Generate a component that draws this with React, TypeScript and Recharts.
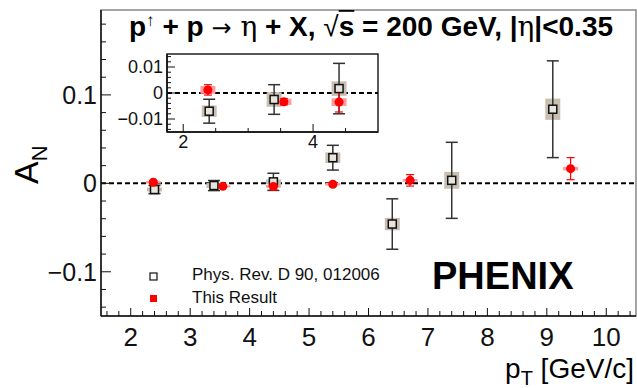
import { ScatterChart, Scatter, XAxis, YAxis, ErrorBar, ReferenceLine, ReferenceArea } from 'recharts';

// Phys. Rev. D 90, 012006 (open squares)
const oldPt = [2.4, 3.4, 4.4, 5.4, 6.4, 7.4, 9.1];
const oldAN = [-0.007, -0.0025, 0.0017, 0.029, -0.046, 0.0034, 0.0838];
const oldStat = [0.0046, 0.0057, 0.0097, 0.014, 0.0285, 0.043, 0.0547];
const oldSys = [0.0022, 0.0028, 0.0028, 0.006, 0.007, 0.0095, 0.012];

// This Result (red)
const newPt = [2.38, 3.55, 4.4, 5.4, 6.7, 9.4];
const newAN = [0.0012, -0.0034, -0.0035, -0.001, 0.0034, 0.0166];
const newStat = [0.002, 0.0012, 0.0038, 0.002, 0.0065, 0.0125];
const newSys = [0.0015, 0.0012, 0.0015, 0.0015, 0.0015, 0.002];

const xMajor = [2, 3, 4, 5, 6, 7, 8, 9, 10];
const yMajor = [-0.1, 0, 0.1];
const insetXMajor = [2, 4];
const insetYMajor = [-0.01, 0, 0.01];

const FONT = '"Liberation Sans", Arial, Helvetica, sans-serif';

const oldData = oldPt.map((x, i) => ({ x, y: oldAN[i], stat: oldStat[i], sys: oldSys[i] }));
const newData = newPt.map((x, i) => ({ x, y: newAN[i], stat: newStat[i], sys: newSys[i] }));

function steps(from: number, to: number, step: number) {
  const out: number[] = [];
  for (let v = from; v <= to + 1e-9; v += step) out.push(Math.round(v * 10000) / 10000);
  return out;
}

const fmt = (v: number) => String(v).replace('-', '\u2212');

function makeXTick(major: number[], bigLen: number, smallLen: number, fontSize: number, dy: number) {
  return (props: any) => {
    const { x, y, payload } = props;
    const isMajor = major.some((m) => Math.abs(m - payload.value) < 1e-6);
    return (
      <g>
        <line x1={x} x2={x} y1={y} y2={y - (isMajor ? bigLen : smallLen)} stroke="#111" strokeWidth={1} />
        {isMajor && (
          <text x={x} y={y + dy} textAnchor="middle" fontSize={fontSize} fontFamily={FONT} fill="#111">
            {fmt(payload.value)}
          </text>
        )}
      </g>
    );
  };
}

function makeYTick(major: number[], bigLen: number, smallLen: number, fontSize: number, dx: number) {
  return (props: any) => {
    const { x, y, payload } = props;
    const isMajor = major.some((m) => Math.abs(m - payload.value) < 1e-6);
    return (
      <g>
        <line x1={x} x2={x + (isMajor ? bigLen : smallLen)} y1={y} y2={y} stroke="#111" strokeWidth={1} />
        {isMajor && (
          <text x={x - dx} y={y} dy="0.36em" textAnchor="end" fontSize={fontSize} fontFamily={FONT} fill="#111">
            {fmt(payload.value)}
          </text>
        )}
      </g>
    );
  };
}

const OpenSquare = (p: any) => (
  <rect x={p.cx - 4} y={p.cy - 4} width={8} height={8} fill="#e8e4de" stroke="#111" strokeWidth={1.5} />
);
const RedDot = (p: any) => <circle cx={p.cx} cy={p.cy} r={4.5} fill="#ff0000" />;

export default function App() {
  const insetOld = oldData.filter((d) => d.x < 5);
  const insetNew = newData.filter((d) => d.x < 5);
  return (
    <div style={{ position: 'absolute', left: 0, top: 0, width: 637, height: 388, background: '#fff' }}>
      <ScatterChart width={637} height={388} margin={{ top: 10, right: 1, bottom: 0, left: 0 }}>
        <XAxis
          type="number"
          dataKey="x"
          domain={[1.5, 10.5]}
          allowDataOverflow
          ticks={steps(1.6, 10.4, 0.2)}
          interval={0}
          height={72}
          tickSize={0}
          tickMargin={0}
          tickLine={false}
          axisLine={{ stroke: '#111', strokeWidth: 1.5 }}
          tick={makeXTick(xMajor, 8, 5, 26, 30)}
        />
        <YAxis
          type="number"
          dataKey="y"
          domain={[-0.15, 0.196]}
          allowDataOverflow
          ticks={steps(-0.14, 0.18, 0.02)}
          interval={0}
          width={101}
          tickSize={0}
          tickMargin={0}
          tickLine={false}
          axisLine={{ stroke: '#111', strokeWidth: 1.5 }}
          tick={makeYTick(yMajor, 10, 5, 25, 4)}
        />
        <ReferenceArea x1={1.5} x2={10.5} y1={-0.15} y2={0.196} fill="none" stroke="#888" strokeWidth={1.5} ifOverflow="visible" />
        <ReferenceLine y={0} stroke="#000" strokeWidth={2} strokeDasharray="5 3" />
        <Scatter data={oldData} shape={OpenSquare} isAnimationActive={false}>
          <ErrorBar dataKey="sys" direction="y" width={0} strokeWidth={15} stroke="#c8beb2" />
          <ErrorBar dataKey="stat" direction="y" width={6} strokeWidth={1.5} stroke="#333" />
        </Scatter>
        <Scatter data={newData} shape={RedDot} isAnimationActive={false}>
          <ErrorBar dataKey="sys" direction="y" width={0} strokeWidth={15} stroke="#ff9a9a" />
          <ErrorBar dataKey="stat" direction="y" width={4} strokeWidth={1.2} stroke="#ff0000" />
        </Scatter>
      </ScatterChart>

      <div style={{ position: 'absolute', left: 110, top: 50 }}>
        <ScatterChart width={272} height={110} margin={{ top: 4, right: 4, bottom: 0, left: 0 }}>
          <XAxis
            type="number"
            dataKey="x"
            domain={[1.75, 5]}
            allowDataOverflow
            ticks={steps(2, 4.5, 0.5)}
            interval={0}
            height={28}
            tickSize={0}
            tickMargin={0}
            tickLine={false}
            axisLine={{ stroke: '#111', strokeWidth: 1.5 }}
            tick={makeXTick(insetXMajor, 8, 4, 18, 16)}
          />
          <YAxis
            type="number"
            dataKey="y"
            domain={[-0.015, 0.015]}
            allowDataOverflow
            ticks={steps(-0.014, 0.014, 0.002)}
            interval={0}
            width={57}
            tickSize={0}
            tickMargin={0}
            tickLine={false}
            axisLine={{ stroke: '#111', strokeWidth: 1.5 }}
            tick={makeYTick(insetYMajor, 8, 4, 18, 4)}
          />
          <ReferenceArea x1={1.75} x2={5} y1={-0.015} y2={0.015} fill="none" stroke="#222" strokeWidth={1.5} ifOverflow="visible" />
          <ReferenceLine y={0} stroke="#000" strokeWidth={2} strokeDasharray="5 3" />
          <Scatter data={insetOld} shape={OpenSquare} isAnimationActive={false}>
            <ErrorBar dataKey="sys" direction="y" width={0} strokeWidth={15} stroke="#c8beb2" />
            <ErrorBar dataKey="stat" direction="y" width={6} strokeWidth={1.5} stroke="#333" />
          </Scatter>
          <Scatter data={insetNew} shape={RedDot} isAnimationActive={false}>
            <ErrorBar dataKey="sys" direction="y" width={0} strokeWidth={15} stroke="#ff9a9a" />
            <ErrorBar dataKey="stat" direction="y" width={4} strokeWidth={1.2} stroke="#ff0000" />
          </Scatter>
        </ScatterChart>
      </div>

      <svg width={637} height={388} style={{ position: 'absolute', left: 0, top: 0, pointerEvents: 'none' }}>
        <text x={129} y={36} fontFamily={FONT} fontSize={28} fontWeight="bold" fill="#000">
          p<tspan dy={-10} fontSize={17} fontWeight="normal">↑</tspan>
          <tspan dy={10}> + p </tspan>
          <tspan fontWeight="normal" fontFamily='"DejaVu Sans", sans-serif' fontSize={24}>→</tspan>
          <tspan fontWeight="normal" fontFamily='"DejaVu Serif", serif'> η</tspan>
          <tspan> + X,  </tspan>
          <tspan fontWeight="normal">√</tspan>
          <tspan textDecoration="overline">s</tspan>
          <tspan> = 200 GeV, |</tspan>
          <tspan fontWeight="normal" fontFamily='"DejaVu Serif", serif'>η</tspan>
          <tspan>|&lt;0.35</tspan>
        </text>
        <text transform="translate(38,184) rotate(-90)" fontFamily={FONT} fontSize={34} fill="#000">
          A<tspan fontSize={22} dy={9}>N</tspan>
        </text>
        <text x={634} y={378} textAnchor="end" fontFamily={FONT} fontSize={28} fill="#000">
          p<tspan fontSize={20} dy={7}>T</tspan>
          <tspan dy={-7}> [GeV/c]</tspan>
        </text>
        <text x={432} y={289} fontFamily={FONT} fontSize={38} fontWeight="bold" fill="#000">PHENIX</text>
        <rect x={150} y={273} width={7} height={7} fill="#fff" stroke="#111" strokeWidth={1.2} />
        <text x={192} y={280} fontFamily={FONT} fontSize={17} fill="#111">Phys. Rev. D 90, 012006</text>
        <rect x={150} y={295} width={7} height={7} fill="#ff0000" />
        <text x={192} y={303} fontFamily={FONT} fontSize={17} fill="#111">This Result</text>
      </svg>
    </div>
  );
}
